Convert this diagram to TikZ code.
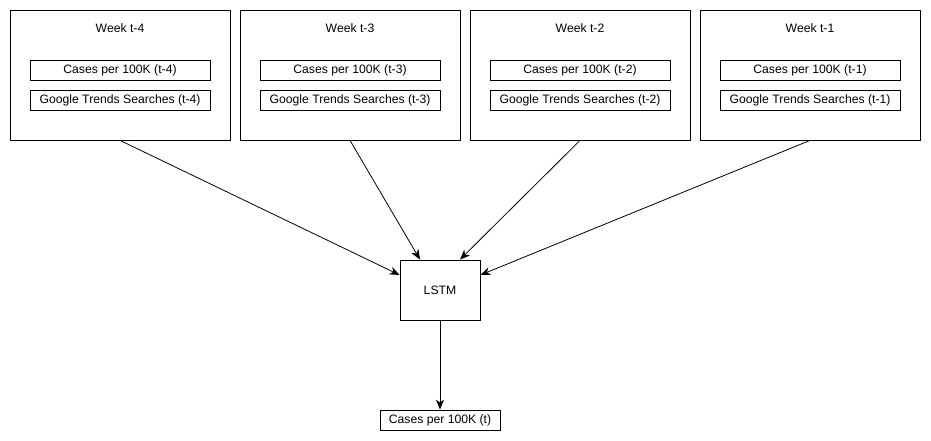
\documentclass[tikz,border=0pt]{standalone}
\usepackage{fontspec}
\setmainfont{Liberation Sans}
\usetikzlibrary{arrows.meta}
\begin{document}
\begin{tikzpicture}[x=1pt,y=-1pt,font=\fontsize{12.2}{14}\selectfont]
\tikzstyle{week}=[draw,line width=0.8pt,minimum width=220pt,minimum height=130pt,inner sep=0pt]
\tikzstyle{feat}=[draw,line width=0.8pt,minimum width=180pt,minimum height=20pt,inner sep=0pt]
\tikzstyle{link}=[line width=0.8pt,-{Stealth[length=10pt,width=8pt,inset=3pt]}]
\useasboundingbox (0,0) rectangle (931,441);
\def\d{230}
\foreach \i/\t in {0/4,1/3,2/2,3/1} {
  \draw (120+\i*\d,75) node[week] (w\t) {};
  \draw (120+\i*\d,28) node (title\t) {Week t-\t};
  \draw (120+\i*\d,70) node[feat] (c\t) {Cases per 100K (t-\t)};
  \draw (120+\i*\d,100) node[feat] (g\t) {Google Trends Searches (t-\t)};
}
\draw (440,290) node[draw,line width=0.8pt,minimum width=80pt,minimum height=60pt,inner sep=0pt] (lstm) {LSTM};
\draw (440,420) node[feat,minimum width=120pt] (out) {Cases per 100K (t)};
\draw[link] (w4.south) -- ([yshift=15pt]lstm.west);
\draw[link] (w3.south) -- ([xshift=-20pt]lstm.north);
\draw[link] (w2.south) -- ([xshift=20pt]lstm.north);
\draw[link] (w1.south) -- ([yshift=15pt]lstm.east);
\draw[link] (lstm) -- (out);
\end{tikzpicture}
\end{document}
